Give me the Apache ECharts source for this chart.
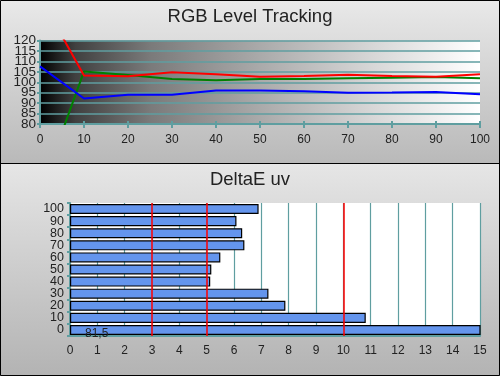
<!DOCTYPE html>
<html><head><meta charset="utf-8">
<script src="https://cdn.jsdelivr.net/npm/echarts@6/dist/echarts.min.js"></script>
<style>html,body{margin:0;padding:0;background:#fff}#c{width:500px;height:376px}</style>
</head><body><div id="c"></div>
<script>
var levels = [0,10,20,30,40,50,60,70,80,90,100];
var redVals   = [141,103.2,102.9,104.8,103.8,102.6,103,103.6,103,102.6,103.8];
var greenVals = [47,105.2,103.5,101.6,101,101.5,101.6,101.9,102.2,102.5,101.9];
var blueVals  = [107.6,92.2,94,94,96.1,96.1,95.7,95,95.1,95.3,94.3];
var deCats = ['0','10','20','30','40','50','60','70','80','90','100'];
var deVals = [81.5,10.82,7.88,7.26,5.13,5.17,5.5,6.38,6.3,6.09,6.9];
var refLines = [3,5,10];
var title1 = 'RGB Level Tracking', title2 = 'DeltaE uv';

var teal = '#5f9ea0';
var chart = echarts.init(document.getElementById('c'), null, {renderer:'canvas'});
function pair(xs, ys){ return xs.map(function(x,i){return [x, ys[i]];}); }
var font = '"Liberation Sans", Arial, sans-serif';
function yLab(odd){
  return {margin:4, fontFamily:font, fontSize:13.5, color:'#222', showMinLabel:true, showMaxLabel:true, hideOverlap:false,
    formatter:function(v){ var isOdd = (v % 10) !== 0; return isOdd === odd ? String(v) : ''; }};
}
chart.setOption({
  animation:false,
  backgroundColor:'#fff',
  graphic:[
    {type:'rect', z:-10, shape:{x:0,y:0,width:500,height:163}, style:{fill:new echarts.graphic.LinearGradient(0,0,0,1,[{offset:0,color:'#e9e9e9'},{offset:1,color:'#b9b9b9'}])}},
    {type:'rect', z:-10, shape:{x:0,y:163,width:500,height:213}, style:{fill:new echarts.graphic.LinearGradient(0,0,0,1,[{offset:0,color:'#e6e6e6'},{offset:1,color:'#b3b3b3'}])}},
    {type:'line', z:100, shape:{x1:0,y1:163.5,x2:500,y2:163.5}, style:{stroke:'#000',lineWidth:1}},
    {type:'rect', z:100, shape:{x:0.5,y:0.5,width:499,height:375}, style:{fill:null,stroke:'#000',lineWidth:1}}
  ],
  title:[
    {text:title1, left:'center', top:2, textStyle:{fontFamily:font,fontSize:18.5,fontWeight:'normal',color:'#222'}},
    {text:title2, left:'center', top:165, textStyle:{fontFamily:font,fontSize:18.5,fontWeight:'normal',color:'#222'}}
  ],
  grid:[
    {left:40, top:40.5, width:440, height:83.5, show:true, borderWidth:0,
     backgroundColor:new echarts.graphic.LinearGradient(0,0,1,0,[
       {offset:0,color:'#000'},{offset:0.08,color:'#404040'},{offset:0.25,color:'#7a7a7a'},
       {offset:0.5,color:'#aaaaaa'},{offset:0.75,color:'#d6d6d6'},{offset:1,color:'#fff'}])},
    {left:70, top:203, width:410, height:133, show:true, borderWidth:0, backgroundColor:'#fff'}
  ],
  xAxis:[
    {gridIndex:0, type:'value', min:0, max:100, interval:10,
     axisLine:{show:true, onZero:false, lineStyle:{color:teal,width:2}},
     axisTick:{show:true, length:4, lineStyle:{color:teal,width:2}},
     axisLabel:{margin:10, fontFamily:font, fontSize:12, color:'#222', showMinLabel:true, showMaxLabel:true, hideOverlap:false},
     splitLine:{show:false}},
    {gridIndex:0, type:'value', min:0, max:100, interval:10, position:'bottom',
     axisLine:{show:false}, axisTick:{show:true, inside:true, length:3, lineStyle:{color:teal,width:2}},
     axisLabel:{show:false}, splitLine:{show:false}},
    {gridIndex:1, type:'value', min:0, max:15, interval:1,
     axisLine:{show:true, lineStyle:{color:teal,width:2}},
     axisTick:{show:true, inside:true, length:4, lineStyle:{color:teal,width:2}},
     axisLabel:{margin:9, fontFamily:font, fontSize:12, color:'#222', showMinLabel:true, showMaxLabel:true, hideOverlap:false},
     splitLine:{show:true, lineStyle:{color:teal,width:1.2}}}
  ],
  yAxis:[
    {gridIndex:0, type:'value', min:80, max:120, interval:5,
     axisLine:{show:true, lineStyle:{color:teal,width:2}},
     axisTick:{show:true, length:3, lineStyle:{color:teal,width:2}},
     axisLabel:yLab(false),
     splitLine:{show:true, lineStyle:{color:teal,width:1.5}}},
    {gridIndex:1, type:'category', data:deCats,
     axisLine:{show:true, lineStyle:{color:teal,width:2}},
     axisTick:{show:true, length:3, interval:0, lineStyle:{color:teal,width:2}},
     axisLabel:{margin:6, interval:0, fontFamily:font, fontSize:12.5, color:'#222', lineHeight:10, hideOverlap:false},
     splitLine:{show:false}},
    {gridIndex:0, type:'value', min:80, max:120, interval:5, position:'left',
     axisLine:{show:false}, axisTick:{show:false},
     axisLabel:yLab(true),
     splitLine:{show:false}}
  ],
  series:[
    {type:'line', xAxisIndex:0, yAxisIndex:0, data:pair(levels, redVals), symbol:'none', lineStyle:{color:'#ff0000',width:2}, z:3},
    {type:'line', xAxisIndex:0, yAxisIndex:0, data:pair(levels, greenVals), symbol:'none', lineStyle:{color:'#008000',width:2}, z:2},
    {type:'line', xAxisIndex:0, yAxisIndex:0, data:pair(levels, blueVals), symbol:'none', lineStyle:{color:'#0000ff',width:2}, z:4},
    {type:'bar', xAxisIndex:2, yAxisIndex:1, data:deVals, barCategoryGap:'17%',
     itemStyle:{color:'#6495ed', borderColor:'#000', borderWidth:1.2},
     label:{show:true, position:'insideLeft', offset:[10,4], fontFamily:font, fontSize:12, color:'#222',
       formatter:function(p){ return p.value > 15 ? String(p.value).replace('.', ',') : ''; }},
     markLine:{silent:true, symbol:['none','none'], label:{show:false},
       lineStyle:{color:'#ff0000', width:1.5, type:'solid'},
       data:refLines.map(function(v){return {xAxis:v};})}}
  ]
});
</script></body></html>
